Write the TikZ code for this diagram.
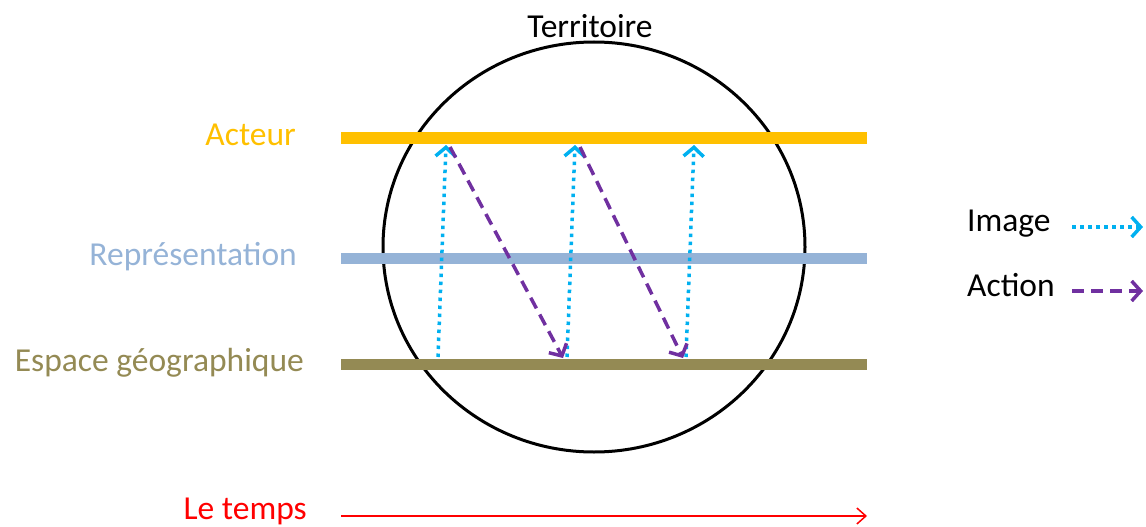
\documentclass[tikz,border=0pt]{standalone}
\usepackage{fontspec}
\setmainfont{Carlito}
\usetikzlibrary{arrows.meta,shapes.geometric}
\definecolor{cActeur}{HTML}{FFC000}
\definecolor{cRep}{HTML}{95B3D7}
\definecolor{cEsp}{HTML}{948A54}
\definecolor{cImg}{HTML}{00B0F0}
\definecolor{cAct}{HTML}{7030A0}
\definecolor{cTemps}{HTML}{FF0000}
\tikzset{
  lbl/.style={inner sep=0pt, font=\fontsize{33.5}{40}\selectfont},
  bar/.style={line width=#1, line cap=butt},
  imgarrow/.style={cImg, line width=3.5pt, dash pattern=on 3.5pt off 4.5pt,
    -{Straight Barb[length=9pt,width=20pt,line width=3.5pt]}},
  actarrow/.style={cAct, line width=3.5pt, dash pattern=on 12pt off 7pt,
    -{Straight Barb[length=9pt,width=20pt,line width=3.5pt]}},
}
\begin{document}
\begin{tikzpicture}[x=1pt,y=-1pt]
\useasboundingbox (0,0) rectangle (1146,527);
% circle
\node[draw=black, line width=3pt, ellipse, minimum width=422pt, minimum height=410pt, inner sep=0pt] (terr) at (594,247) {};
\node[lbl, anchor=base] (territoire) at (590,38) {Territoire};
% bars
\coordinate (aL) at (341,138); \coordinate (aR) at (867,138);
\coordinate (rL) at (341,258); \coordinate (rR) at (867,258);
\coordinate (eL) at (341,364); \coordinate (eR) at (867,364);
\draw[bar=12pt, cActeur] (aL) -- (aR);
\draw[bar=11pt, cRep] (rL) -- (rR);
\draw[bar=11pt, cEsp] (eL) -- (eR);
% labels
\node[lbl, anchor=base east, text=cActeur] (acteur) at (296,145) {Acteur};
\node[lbl, anchor=base east, text=cRep] (rep) at (297,265) {Représentation};
\node[lbl, anchor=base east, text=cEsp] (esp) at (304,371) {Espace géographique};
\node[lbl, anchor=base east, text=cTemps] (temps) at (307,519) {Le temps};
% time arrow
\coordinate (tL) at (341,516); \coordinate (tR) at (867,516);
\draw[cTemps, line width=1.5pt, -{Straight Barb[length=9pt,width=16pt,line width=1.5pt]}] (tL) -- (tR);
% image arrows
\coordinate (i1b) at (438,357); \coordinate (i1t) at (446,145);
\coordinate (i2b) at (567,357); \coordinate (i2t) at (575,145);
\coordinate (i3b) at (686,357); \coordinate (i3t) at (694,145);
\draw[imgarrow] (i1b) -- (i1t);
\draw[imgarrow] (i2b) -- (i2t);
\draw[imgarrow] (i3b) -- (i3t);
% action arrows
\coordinate (a1s) at (450,147); \coordinate (a1e) at (563,358);
\coordinate (a2s) at (580,147); \coordinate (a2e) at (683,358);
\draw[actarrow] (a1s) -- (a1e);
\draw[actarrow] (a2s) -- (a2e);
% legend
\node[lbl, anchor=base west] (limg) at (967,231) {Image};
\node[lbl, anchor=base west] (lact) at (967,296) {Action};
\coordinate (lis) at (1072,227); \coordinate (lie) at (1143,227);
\coordinate (las) at (1072,291); \coordinate (lae) at (1143,291);
\draw[imgarrow] (lis) -- (lie);
\draw[actarrow] (las) -- (lae);
\end{tikzpicture}
\end{document}
